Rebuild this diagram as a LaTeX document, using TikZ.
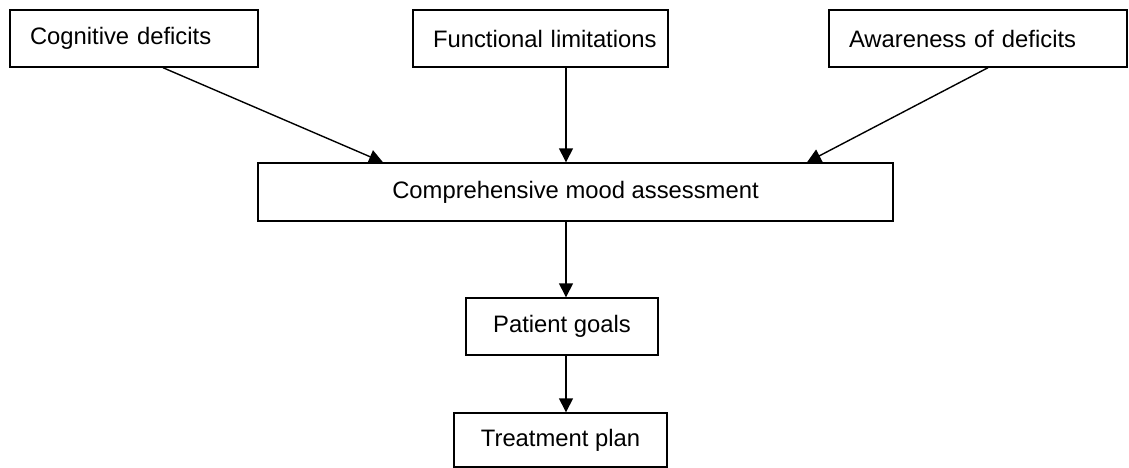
\documentclass[tikz,border=0pt]{standalone}
\usepackage{fontspec}
\setmainfont{Liberation Sans}
\usetikzlibrary{arrows.meta}

\tikzset{
  box/.style={draw,line width=1.4pt,inner sep=0pt,minimum height=57pt,
    font=\fontsize{23.8}{28}\selectfont},
  topbox/.style={box,align=left,text width=#1,
    execute at begin node={\hspace*{20pt}}},
  arr/.style={line width=1.4pt,-{Triangle[length=14pt,width=14pt]}}
}

\begin{document}
\begin{tikzpicture}[x=1pt,y=-1pt]
  \useasboundingbox (0,0) rectangle (1129,468);

  % top row
  \node[topbox=248pt] (cog) at (134,38.5) {Cognitive deficits};
  \node[topbox=255pt] (fun) at (540.5,38.5) {Functional limitations};
  \node[topbox=298pt] (awa) at (978,38.5) {Awareness of deficits};

  % middle and bottom
  \node[box,minimum width=635pt,minimum height=58pt] (comp) at (575.5,192) {Comprehensive mood assessment};
  \node[box,minimum width=192pt] (pat) at (562,326.5) {Patient goals};
  \node[box,minimum width=213pt,minimum height=54pt] (treat) at (560.5,440) {Treatment plan};

  % arrows
  \draw[arr] ([xshift=29pt]cog.south) -- ([xshift=-192.5pt]comp.north);
  \draw[arr] ([xshift=25.5pt]fun.south) -- ([xshift=-9.5pt]comp.north);
  \draw[arr] ([xshift=10pt]awa.south) -- ([xshift=231.5pt]comp.north);
  \draw[arr] ([xshift=-9.5pt]comp.south) -- ([xshift=4pt]pat.north);
  \draw[arr] ([xshift=4pt]pat.south) -- ([xshift=5.5pt]treat.north);
\end{tikzpicture}
\end{document}
